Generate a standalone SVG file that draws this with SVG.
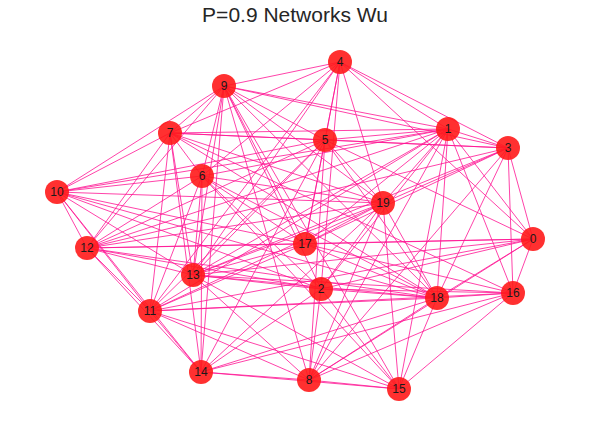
<svg xmlns="http://www.w3.org/2000/svg" width="590" height="431" viewBox="0 0 590 431">
<style>
.e{stroke:#ff1493;stroke-width:1;stroke-opacity:0.8;fill:none}
.n circle{fill:#ff1a1a;fill-opacity:0.9}
.n text{font-family:"Liberation Sans",Arial,sans-serif;font-size:12px;fill:#1a1a1a;text-anchor:middle;dominant-baseline:central}
.t{font-family:"Liberation Sans",Arial,sans-serif;font-size:21px;fill:#262626;text-anchor:middle}
</style>
<rect width="590" height="431" fill="#fff"/>
<text class="t" x="295" y="22">P=0.9 Networks Wu</text>
<g id="edges">
<path class="e" d="M533 239L448 129M533 239L321 289M533 239L508 148M533 239L340 62M533 239L325 140M533 239L309 380M533 239L87 248M533 239L513 293M533 239L305 244M533 239L437 298M533 239L193 275M533 239L150 311"/>
<path class="e" d="M448 129L321 289M448 129L508 148M448 129L340 62M448 129L325 140M448 129L202 176M448 129L170 133M448 129L224 86M448 129L87 248M448 129L193 275M448 129L513 293M448 129L305 244M448 129L437 298M448 129L383 203M448 129L57 192M448 129L309 380M448 129L150 311M448 129L399 389"/>
<path class="e" d="M321 289L340 62M321 289L202 176M321 289L309 380M321 289L224 86M321 289L87 248M321 289L193 275M321 289L399 389M321 289L513 293M321 289L437 298M321 289L383 203M321 289L57 192M321 289L201 372"/>
<path class="e" d="M508 148L340 62M508 148L325 140M508 148L170 133M508 148L309 380M508 148L224 86M508 148L87 248M508 148L193 275M508 148L513 293M508 148L305 244M508 148L437 298M508 148L383 203"/>
<path class="e" d="M340 62L325 140M340 62L202 176M340 62L170 133M340 62L224 86M340 62L150 311M340 62L193 275M340 62L305 244M340 62L383 203"/>
<path class="e" d="M325 140L170 133M325 140L309 380M325 140L224 86M325 140L150 311M325 140L193 275M325 140L201 372M325 140L305 244M325 140L437 298M325 140L383 203M325 140L57 192M325 140L87 248"/>
<path class="e" d="M202 176L170 133M202 176L224 86M202 176L57 192M202 176L150 311M202 176L193 275M202 176L201 372M202 176L305 244M202 176L437 298M202 176L383 203M202 176L87 248M202 176L399 389"/>
<path class="e" d="M170 133L224 86M170 133L57 192M170 133L150 311M170 133L193 275M170 133L201 372M170 133L513 293M170 133L437 298M170 133L383 203M170 133L87 248"/>
<path class="e" d="M309 380L224 86M309 380L150 311M309 380L193 275M309 380L201 372M309 380L399 389M309 380L513 293M309 380L437 298M309 380L383 203"/>
<path class="e" d="M224 86L57 192M224 86L193 275M224 86L201 372M224 86L305 244M224 86L437 298M224 86L383 203M224 86L87 248M224 86L399 389"/>
<path class="e" d="M57 192L150 311M57 192L87 248M57 192L193 275M57 192L201 372M57 192L305 244M57 192L383 203M57 192L437 298"/>
<path class="e" d="M150 311L87 248M150 311L201 372M150 311L399 389M150 311L305 244M150 311L437 298M150 311L383 203M150 311L513 293"/>
<path class="e" d="M87 248L193 275M87 248L201 372M87 248L305 244M87 248L383 203M87 248L437 298"/>
<path class="e" d="M193 275L399 389M193 275L305 244M193 275L383 203M193 275L513 293M193 275L437 298"/>
<path class="e" d="M201 372L399 389M201 372L513 293M201 372L437 298M201 372L383 203"/>
<path class="e" d="M399 389L513 293M399 389L437 298M399 389L383 203"/>
<path class="e" d="M513 293L305 244M513 293L437 298M305 244L437 298M305 244L383 203M437 298L383 203"/>
</g>
<g id="n0" class="n"><circle cx="533" cy="239" r="12"/><text x="533" y="239">0</text></g>
<g id="n1" class="n"><circle cx="448" cy="129" r="12"/><text x="448" y="129">1</text></g>
<g id="n2" class="n"><circle cx="321" cy="289" r="12"/><text x="321" y="289">2</text></g>
<g id="n3" class="n"><circle cx="508" cy="148" r="12"/><text x="508" y="148">3</text></g>
<g id="n4" class="n"><circle cx="340" cy="62" r="12"/><text x="340" y="62">4</text></g>
<g id="n5" class="n"><circle cx="325" cy="140" r="12"/><text x="325" y="140">5</text></g>
<g id="n6" class="n"><circle cx="202" cy="176" r="12"/><text x="202" y="176">6</text></g>
<g id="n7" class="n"><circle cx="170" cy="133" r="12"/><text x="170" y="133">7</text></g>
<g id="n8" class="n"><circle cx="309" cy="380" r="12"/><text x="309" y="380">8</text></g>
<g id="n9" class="n"><circle cx="224" cy="86" r="12"/><text x="224" y="86">9</text></g>
<g id="n10" class="n"><circle cx="57" cy="192" r="12"/><text x="57" y="192">10</text></g>
<g id="n11" class="n"><circle cx="150" cy="311" r="12"/><text x="150" y="311">11</text></g>
<g id="n12" class="n"><circle cx="87" cy="248" r="12"/><text x="87" y="248">12</text></g>
<g id="n13" class="n"><circle cx="193" cy="275" r="12"/><text x="193" y="275">13</text></g>
<g id="n14" class="n"><circle cx="201" cy="372" r="12"/><text x="201" y="372">14</text></g>
<g id="n15" class="n"><circle cx="399" cy="389" r="12"/><text x="399" y="389">15</text></g>
<g id="n16" class="n"><circle cx="513" cy="293" r="12"/><text x="513" y="293">16</text></g>
<g id="n17" class="n"><circle cx="305" cy="244" r="12"/><text x="305" y="244">17</text></g>
<g id="n18" class="n"><circle cx="437" cy="298" r="12"/><text x="437" y="298">18</text></g>
<g id="n19" class="n"><circle cx="383" cy="203" r="12"/><text x="383" y="203">19</text></g>
</svg>
